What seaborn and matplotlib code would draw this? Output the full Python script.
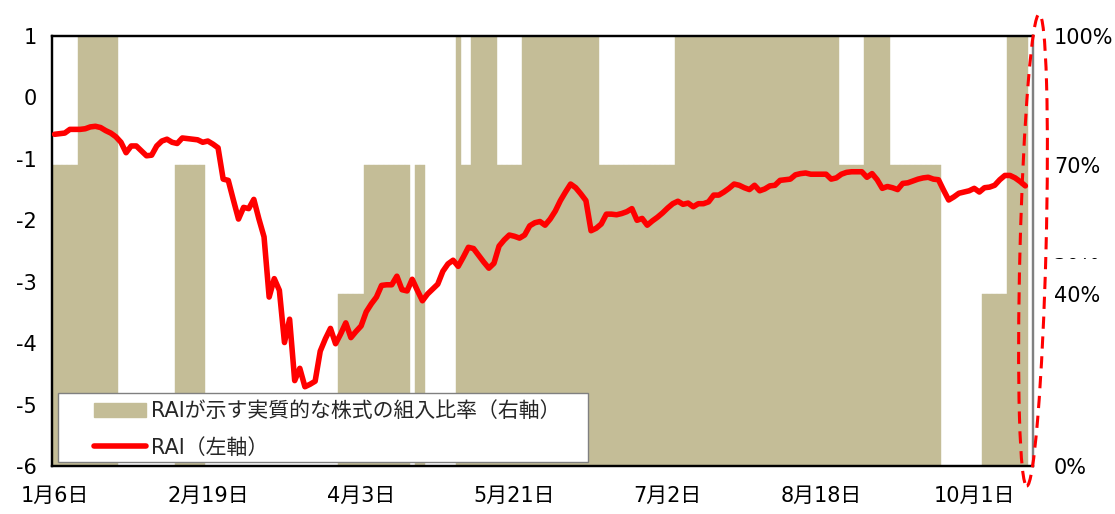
import numpy as np
import matplotlib
matplotlib.use("Agg")
import matplotlib.pyplot as plt
import seaborn as sns
from matplotlib.patches import Patch, Rectangle, Ellipse
from matplotlib.lines import Line2D
from matplotlib.transforms import IdentityTransform

# Colors
TAN = "#C4BD97"
RED = "#FF0000"

# Tick labels (every 30 trading days)
date_labels = ["1月6日", "2月19日", "4月3日", "5月21日", "7月2日", "8月18日", "10月1日"]
label_step = 30
n_slots = 192

# RAI (left axis)
rai = [
    -0.60, -0.59, -0.58, -0.52, -0.52, -0.52, -0.51, -0.48, -0.47, -0.49,
    -0.54, -0.58, -0.64, -0.73, -0.90, -0.79, -0.79, -0.87, -0.95, -0.94,
    -0.79, -0.71, -0.68, -0.73, -0.75, -0.66, -0.67, -0.68, -0.69, -0.73,
    -0.71, -0.76, -0.82, -1.33, -1.35, -1.67, -1.98, -1.79, -1.81, -1.66,
    -1.98, -2.27, -3.25, -2.95, -3.14, -3.99, -3.61, -4.61, -4.41, -4.71,
    -4.67, -4.62, -4.13, -3.93, -3.76, -4.01, -3.85, -3.67, -3.91, -3.81,
    -3.72, -3.49, -3.36, -3.25, -3.06, -3.05, -3.05, -2.91, -3.13, -3.15,
    -2.96, -3.14, -3.31, -3.20, -3.12, -3.04, -2.83, -2.71, -2.65, -2.75,
    -2.60, -2.44, -2.46, -2.57, -2.68, -2.78, -2.70, -2.42, -2.32, -2.24,
    -2.26, -2.29, -2.24, -2.09, -2.04, -2.02, -2.08, -1.98, -1.85, -1.68,
    -1.54, -1.41, -1.47, -1.57, -1.68, -2.17, -2.13, -2.06, -1.90, -1.90,
    -1.91, -1.89, -1.86, -1.81, -2.00, -1.97, -2.08, -2.01, -1.95, -1.88,
    -1.80, -1.73, -1.69, -1.74, -1.72, -1.78, -1.73, -1.73, -1.70, -1.59,
    -1.59, -1.54, -1.48, -1.41, -1.43, -1.47, -1.50, -1.43, -1.52, -1.49,
    -1.44, -1.43, -1.35, -1.34, -1.33, -1.26, -1.24, -1.23, -1.25, -1.25,
    -1.25, -1.25, -1.33, -1.31, -1.25, -1.22, -1.21, -1.21, -1.21, -1.30,
    -1.24, -1.34, -1.48, -1.45, -1.47, -1.50, -1.40, -1.39, -1.36, -1.33,
    -1.31, -1.30, -1.33, -1.34, -1.51, -1.67, -1.62, -1.56, -1.54, -1.52,
    -1.48, -1.54, -1.47, -1.46, -1.43, -1.34, -1.27, -1.27, -1.31, -1.37,
    -1.44,
]

# Equity allocation implied by RAI, % (right axis)
ratio = [
    70, 70, 70, 70, 70, 100, 100, 100, 100, 100,
    100, 100, 100, 0, 0, 0, 0, 0, 0, 0,
    0, 0, 0, 0, 70, 70, 70, 70, 70, 70,
    0, 0, 0, 0, 0, 0, 0, 0, 0, 0,
    0, 0, 0, 0, 0, 0, 0, 0, 0, 0,
    0, 0, 0, 0, 0, 0, 40, 40, 40, 40,
    40, 70, 70, 70, 70, 70, 70, 70, 70, 70,
    0, 70, 70, 0, 0, 0, 0, 0, 0, 100,
    70, 70, 100, 100, 100, 100, 100, 70, 70, 70,
    70, 70, 100, 100, 100, 100, 100, 100, 100, 100,
    100, 100, 100, 100, 100, 100, 100, 70, 70, 70,
    70, 70, 70, 70, 70, 70, 70, 70, 70, 70,
    70, 70, 100, 100, 100, 100, 100, 100, 100, 100,
    100, 100, 100, 100, 100, 100, 100, 100, 100, 100,
    100, 100, 100, 100, 100, 100, 100, 100, 100, 100,
    100, 100, 100, 100, 70, 70, 70, 70, 70, 100,
    100, 100, 100, 100, 70, 70, 70, 70, 70, 70,
    70, 70, 70, 70, 0, 0, 0, 0, 0, 0,
    0, 0, 40, 40, 40, 40, 40, 100, 100, 100,
    100,
]

left_ticks = [-6, -5, -4, -3, -2, -1, 0, 1]
right_ticks = [0, 40, 50, 70, 100]

sns.set_style("white")
plt.rcParams['font.family'] = ['DejaVu Sans', 'Noto Sans CJK JP']
FS = 15

W, H = 1115, 514
fig = plt.figure(figsize=(W / 100, H / 100), dpi=100)
ax = fig.add_axes([52 / W, 48 / H, 981 / W, 430 / H])
ax2 = ax.twinx()

# bars on the right axis (behind), line on the left axis (front)
idx = np.arange(len(ratio))
sns.barplot(x=idx, y=ratio, native_scale=True, width=1, color=TAN,
            saturation=1, errorbar=None, edgecolor=TAN, linewidth=0.3, ax=ax2)
sns.lineplot(x=np.arange(len(rai)), y=rai, color=RED, linewidth=4.0,
             ax=ax, zorder=5)

ax.set_zorder(ax2.get_zorder() + 1)
ax.patch.set_visible(False)

ax.set_xlim(-0.5, n_slots - 0.5)
ax.set_ylim(-6, 1)
ax2.set_ylim(0, 100)

ax.set_yticks(left_ticks)
ax.set_yticklabels([str(t) for t in left_ticks])
ax2.set_yticks(right_ticks)
ax2.set_yticklabels([f"{t}%" for t in right_ticks])
ax.set_xticks([i * label_step for i in range(len(date_labels))])
ax.set_xticklabels(date_labels)

ax.tick_params(axis='y', length=0, pad=11, labelsize=FS, labelcolor='black')
ax.tick_params(axis='x', length=0, pad=14, labelsize=FS, labelcolor='black')
ax2.tick_params(axis='y', length=0, pad=15, labelsize=FS, labelcolor='black')
ax.set_xlabel("")
ax.set_ylabel("")
ax2.set_xlabel("")
ax2.set_ylabel("")
ax.grid(False)
ax2.grid(False)

for a in (ax, ax2):
    for s in a.spines.values():
        s.set_visible(True)
        s.set_color("black")
        s.set_linewidth(1.6)
ax2.spines['right'].set_color("#808080")
ax.spines['right'].set_color("#808080")

# legend with its own frame
frame = Rectangle((0.006, 0.01), 0.54, 0.16, transform=ax.transAxes,
                  facecolor="white", edgecolor="#808080", linewidth=1.0, zorder=8)
ax.add_patch(frame)
handles = [Patch(facecolor=TAN, edgecolor=TAN),
           Line2D([], [], color=RED, linewidth=4.0)]
labels = ["RAIが示す実質的な株式の組入比率（右軸）", "RAI（左軸）"]
leg = ax.legend(handles, labels, loc='center left', bbox_to_anchor=(0.034, 0.085),
                frameon=False, fontsize=FS, handlelength=2.5, handletextpad=0.25,
                labelspacing=0.8, borderaxespad=0)
leg.set_zorder(9)

# dashed ellipse marking the latest point
ell = Ellipse((1033, H - 250), 26, 472, angle=-1.5, transform=IdentityTransform(),
              fill=False, edgecolor=RED, linewidth=2.2, linestyle=(0, (4, 2.5)), zorder=20)
fig.add_artist(ell)
# partially hidden 50% label
cover = Rectangle((1050, H - 258), 65, 21, transform=IdentityTransform(),
                  facecolor="white", edgecolor="none", zorder=15)
fig.add_artist(cover)

fig.savefig("out.png", dpi=100)
